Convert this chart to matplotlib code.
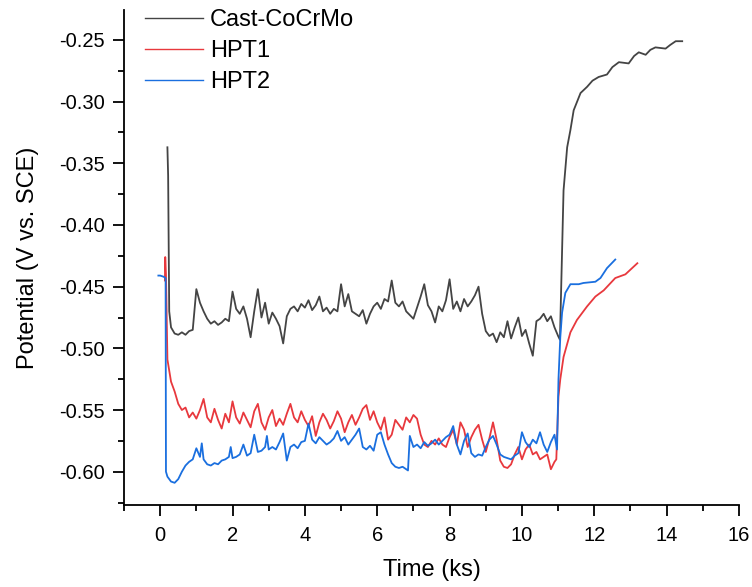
import numpy as np
import matplotlib
matplotlib.use("Agg")
import matplotlib.pyplot as plt
from matplotlib.ticker import MultipleLocator, FormatStrFormatter

plt.rcParams['font.family'] = ['Liberation Sans', 'DejaVu Sans']
plt.rcParams['axes.unicode_minus'] = False

# Cast-CoCrMo (black)
t_cast = [0.2, 0.22, 0.25, 0.3,
          0.4, 0.5, 0.6, 0.7, 0.8, 0.9, 1.0, 1.1, 1.2, 1.3, 1.4, 1.5, 1.6, 1.7, 1.8, 1.9,
          2.0, 2.1, 2.2, 2.3, 2.4, 2.5, 2.6, 2.7, 2.8, 2.9, 3.0, 3.1, 3.2, 3.3, 3.4, 3.5,
          3.6, 3.7, 3.8, 3.9, 4.0, 4.1, 4.2, 4.3, 4.4, 4.5, 4.6, 4.7, 4.8, 4.9, 5.0, 5.1,
          5.2, 5.3, 5.4, 5.5, 5.6, 5.7, 5.8, 5.9, 6.0, 6.1, 6.2, 6.3, 6.4, 6.5, 6.6, 6.7,
          6.8, 6.9, 7.0, 7.1, 7.2, 7.3, 7.4, 7.5, 7.6, 7.7, 7.8, 7.9, 8.0, 8.1, 8.2, 8.3,
          8.4, 8.5, 8.6, 8.7, 8.8, 8.9, 9.0, 9.1, 9.2, 9.3, 9.4, 9.5, 9.6, 9.7, 9.8, 9.9,
          10.0, 10.1, 10.2, 10.3, 10.4, 10.5, 10.6, 10.7, 10.8, 10.9, 11.0, 11.05,
          11.1, 11.15, 11.25, 11.34, 11.43, 11.62, 11.8, 11.95, 12.12, 12.35, 12.5, 12.68,
          12.95, 13.1, 13.23, 13.42, 13.55, 13.69, 13.97, 14.1, 14.25, 14.43]
v_cast = [-0.337, -0.36, -0.47, -0.483,
          -0.488, -0.489, -0.487, -0.489, -0.486, -0.485, -0.452, -0.463, -0.470, -0.476, -0.480, -0.478, -0.481, -0.479, -0.476, -0.478,
          -0.454, -0.468, -0.472, -0.466, -0.476, -0.491, -0.470, -0.452, -0.475, -0.463, -0.480, -0.471, -0.476, -0.482, -0.496, -0.474,
          -0.468, -0.466, -0.470, -0.464, -0.467, -0.461, -0.469, -0.465, -0.458, -0.470, -0.467, -0.472, -0.468, -0.470, -0.448, -0.466,
          -0.456, -0.470, -0.472, -0.474, -0.469, -0.480, -0.472, -0.466, -0.463, -0.468, -0.460, -0.462, -0.445, -0.463, -0.466, -0.462,
          -0.470, -0.473, -0.476, -0.467, -0.458, -0.448, -0.465, -0.470, -0.479, -0.466, -0.470, -0.461, -0.444, -0.468, -0.462, -0.470,
          -0.460, -0.466, -0.462, -0.457, -0.450, -0.472, -0.486, -0.490, -0.488, -0.495, -0.487, -0.491, -0.478, -0.492, -0.483, -0.475,
          -0.490, -0.485, -0.496, -0.506, -0.478, -0.476, -0.472, -0.478, -0.474, -0.483, -0.490, -0.493,
          -0.431, -0.372, -0.337, -0.323, -0.307, -0.293, -0.288, -0.283, -0.280, -0.278, -0.272, -0.268,
          -0.269, -0.263, -0.260, -0.262, -0.258, -0.256, -0.257, -0.254, -0.251, -0.251]

# HPT1 (red)
t_hpt1 = [0.13, 0.14, 0.16, 0.2, 0.25, 0.3,
          0.4, 0.5, 0.6, 0.7, 0.8, 0.9, 1.0, 1.1, 1.2, 1.3, 1.4, 1.5, 1.6, 1.7, 1.8, 1.9,
          2.0, 2.1, 2.2, 2.3, 2.4, 2.5, 2.6, 2.7, 2.8, 2.9, 3.0, 3.1, 3.2, 3.3, 3.4, 3.5,
          3.6, 3.7, 3.8, 3.9, 4.0, 4.1, 4.2, 4.3, 4.4, 4.5, 4.6, 4.7, 4.8, 4.9, 5.0, 5.1,
          5.2, 5.3, 5.4, 5.5, 5.6, 5.7, 5.8, 5.9, 6.0, 6.1, 6.2, 6.3, 6.4, 6.5, 6.6, 6.7,
          6.8, 6.9, 7.0, 7.1, 7.2, 7.3, 7.4, 7.5, 7.6, 7.7, 7.8, 7.9, 8.0, 8.1, 8.2, 8.3,
          8.4, 8.5, 8.6, 8.7, 8.8, 8.9, 9.0, 9.1, 9.2, 9.3, 9.4, 9.5, 9.6, 9.7, 9.8, 9.9,
          10.0, 10.1, 10.2, 10.3, 10.4, 10.5, 10.6, 10.7, 10.8, 10.9, 10.95,
          11.01, 11.06, 11.15, 11.34, 11.52, 11.8, 12.03, 12.26, 12.58, 12.86, 13.19]
v_hpt1 = [-0.445, -0.426, -0.44, -0.509, -0.518, -0.527,
          -0.535, -0.545, -0.550, -0.548, -0.556, -0.552, -0.557, -0.550, -0.541, -0.556, -0.560, -0.549, -0.558, -0.565, -0.553, -0.560,
          -0.543, -0.556, -0.561, -0.552, -0.558, -0.564, -0.551, -0.545, -0.560, -0.566, -0.556, -0.550, -0.563, -0.557, -0.562, -0.553,
          -0.545, -0.556, -0.560, -0.551, -0.558, -0.563, -0.555, -0.571, -0.560, -0.553, -0.558, -0.565, -0.559, -0.551, -0.557, -0.568,
          -0.560, -0.554, -0.562, -0.556, -0.549, -0.546, -0.558, -0.551, -0.560, -0.566, -0.556, -0.574, -0.570, -0.558, -0.562, -0.566,
          -0.556, -0.560, -0.554, -0.557, -0.570, -0.578, -0.580, -0.575, -0.578, -0.573, -0.578, -0.580, -0.572, -0.566, -0.578, -0.560,
          -0.566, -0.580, -0.572, -0.566, -0.562, -0.574, -0.584, -0.573, -0.560, -0.574, -0.591, -0.596, -0.597, -0.594, -0.586, -0.580,
          -0.590, -0.582, -0.578, -0.586, -0.584, -0.590, -0.588, -0.586, -0.598, -0.592, -0.590,
          -0.539, -0.525, -0.507, -0.487, -0.477, -0.466, -0.458, -0.453, -0.443, -0.440, -0.431]

# HPT2 (blue)
t_hpt2 = [-0.05, 0.0, 0.1, 0.15, 0.16, 0.2, 0.3,
          0.4, 0.5, 0.6, 0.7, 0.8, 0.9, 1.0, 1.1, 1.15, 1.2, 1.3, 1.4, 1.5, 1.6, 1.7, 1.8, 1.9, 1.95,
          2.0, 2.1, 2.2, 2.3, 2.4, 2.5, 2.6, 2.7, 2.8, 2.9, 2.95, 3.0, 3.1, 3.2, 3.3, 3.4, 3.5,
          3.6, 3.7, 3.8, 3.9, 4.0, 4.1, 4.2, 4.3, 4.4, 4.5, 4.6, 4.7, 4.8, 4.9, 5.0, 5.1,
          5.2, 5.3, 5.4, 5.5, 5.6, 5.7, 5.8, 5.9, 6.0, 6.1, 6.2, 6.3, 6.4, 6.5, 6.6, 6.7,
          6.8, 6.85, 6.9, 7.0, 7.1, 7.2, 7.3, 7.4, 7.5, 7.6, 7.7, 7.8, 7.9, 8.0, 8.1, 8.2, 8.3,
          8.4, 8.5, 8.6, 8.7, 8.8, 8.9, 9.0, 9.1, 9.2, 9.3, 9.4, 9.5, 9.6, 9.7, 9.8, 9.9,
          10.0, 10.1, 10.2, 10.3, 10.4, 10.5, 10.6, 10.7, 10.8, 10.9, 10.97,
          11.01, 11.06, 11.11, 11.2, 11.34, 11.57, 11.7, 12.03, 12.17, 12.35, 12.58]
v_hpt2 = [-0.441, -0.441, -0.442, -0.443, -0.600, -0.604, -0.608,
          -0.609, -0.606, -0.600, -0.595, -0.592, -0.590, -0.581, -0.588, -0.577, -0.590, -0.594, -0.595, -0.593, -0.594, -0.591, -0.590, -0.588, -0.580,
          -0.589, -0.588, -0.586, -0.578, -0.587, -0.585, -0.570, -0.584, -0.583, -0.580, -0.571, -0.582, -0.580, -0.582, -0.576, -0.569, -0.591,
          -0.580, -0.578, -0.581, -0.576, -0.575, -0.561, -0.574, -0.577, -0.572, -0.575, -0.578, -0.576, -0.573, -0.567, -0.575, -0.572,
          -0.578, -0.574, -0.570, -0.565, -0.580, -0.582, -0.579, -0.583, -0.570, -0.568, -0.578, -0.586, -0.593, -0.596, -0.597, -0.596,
          -0.598, -0.599, -0.571, -0.580, -0.578, -0.581, -0.576, -0.579, -0.577, -0.574, -0.578, -0.575, -0.572, -0.570, -0.563, -0.578, -0.586,
          -0.575, -0.569, -0.585, -0.588, -0.586, -0.587, -0.580, -0.574, -0.571, -0.578, -0.586, -0.588, -0.589, -0.590, -0.587, -0.585,
          -0.568, -0.576, -0.580, -0.574, -0.577, -0.568, -0.578, -0.584, -0.576, -0.570, -0.582,
          -0.525, -0.491, -0.471, -0.455, -0.448, -0.448, -0.447, -0.446, -0.443, -0.435, -0.428]

fig = plt.figure(figsize=(7.52, 5.87), dpi=100)
ax = fig.add_axes([124 / 752, 82 / 587, 615 / 752, 495 / 587])

ax.plot(t_cast, v_cast, color='#444444', lw=1.3, label='Cast-CoCrMo')
ax.plot(t_hpt1, v_hpt1, color='#e8383d', lw=1.3, label='HPT1')
ax.plot(t_hpt2, v_hpt2, color='#1a6fdf', lw=1.3, label='HPT2')

ax.set_xlim(-1.0, 16.0)
ax.set_ylim(-0.627, -0.2257)
ax.xaxis.set_major_locator(MultipleLocator(2))
ax.xaxis.set_minor_locator(MultipleLocator(1))
ax.yaxis.set_major_locator(MultipleLocator(0.05))
ax.yaxis.set_minor_locator(MultipleLocator(0.025))
ax.yaxis.set_major_formatter(FormatStrFormatter('%.2f'))

for s in ['top', 'right']:
    ax.spines[s].set_visible(False)
for s in ['left', 'bottom']:
    ax.spines[s].set_linewidth(1.3)
ax.tick_params(which='major', direction='out', length=8, width=1.3, labelsize=14.5)
ax.tick_params(which='minor', direction='out', length=4, width=1.3)
ax.tick_params(axis='x', which='major', pad=7)
ax.tick_params(axis='y', which='major', pad=6)

ax.set_xlabel('Time (ks)', fontsize=17, labelpad=10)
ax.set_ylabel('Potential (V vs. SCE)', fontsize=17, labelpad=14)

leg = ax.legend(loc='upper left', bbox_to_anchor=(0.0, 1.045), frameon=False, fontsize=17,
                handlelength=2.45, handletextpad=0.3, labelspacing=0.38)
for h in leg.get_lines():
    h.set_linewidth(1.0)

fig.savefig('out.png', dpi=100)
